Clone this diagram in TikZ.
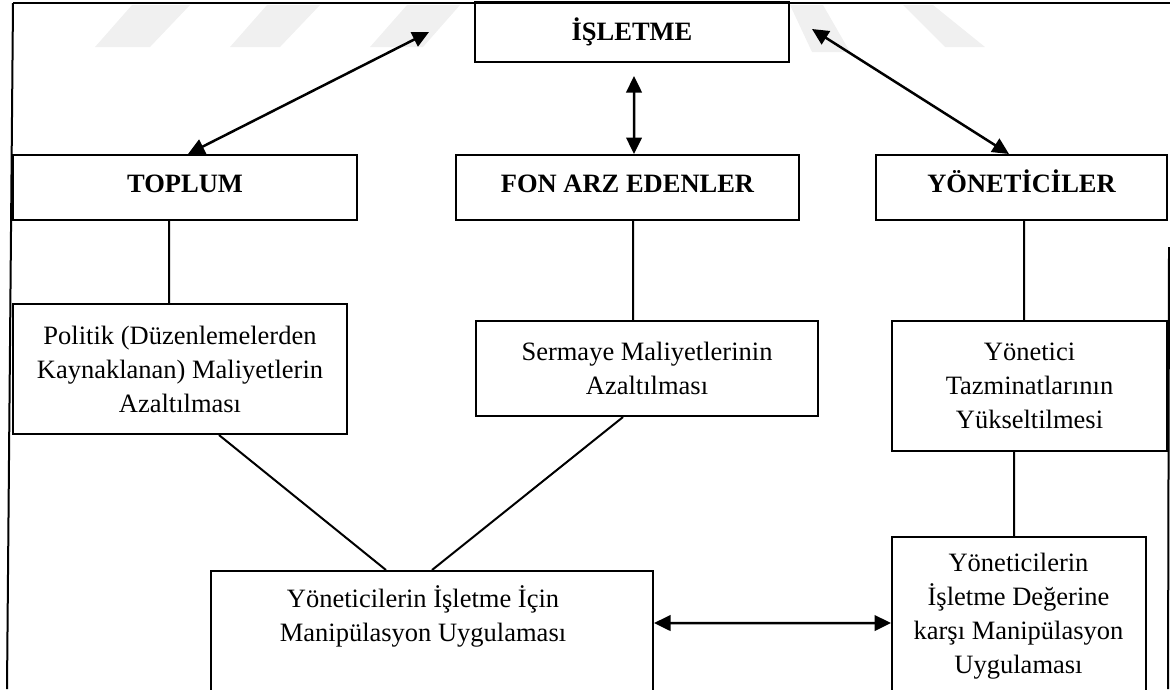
\documentclass[tikz,border=0pt]{standalone}
\usepackage{fontspec}
\setmainfont{Liberation Serif}
\usetikzlibrary{arrows.meta}
\begin{document}
\begin{tikzpicture}[x=0.4pt,y=-0.4pt,
  box/.style={draw, line width=0.8pt, rectangle, inner sep=0pt, align=center,
    font=\fontsize{10.6}{13.6}\selectfont},
  head/.style={box, font=\fontsize{10.6}{13.6}\selectfont\bfseries, text height=7pt, text depth=3.2pt},
  txt/.style={align=center, inner sep=0pt, font=\fontsize{10.6}{13.6}\selectfont},
  conn/.style={line width=0.8pt},
  arr/.style={line width=1pt, {Triangle[length=6.6pt,width=6.2pt]}-{Triangle[length=6.6pt,width=6.2pt]}},
  frame/.style={line width=0.8pt},
  wm/.style={fill=black!6, draw=none}]
\useasboundingbox (0,0) rectangle (1170,689);
\clip (0,0) rectangle (1170,689);
% faint watermark
\fill[wm] (95,47) -- (150,47) -- (190,5) -- (132,5) -- cycle;
\fill[wm] (230,47) -- (280,47) -- (320,5) -- (267,5) -- cycle;
\fill[wm] (370,47) -- (423,47) -- (460,5) -- (407,5) -- cycle;
\fill[wm] (790,5) -- (823,5) -- (850,52) -- (812,52) -- cycle;
\fill[wm] (903,5) -- (933,5) -- (985,47) -- (945,47) -- cycle;
% frame
\draw[frame] (13,3) -- (1170,3);
\draw[frame] (13,3) -- (7,689);
\draw[frame] (1169,247) -- (1168,689);
% boxes
\node[head, minimum width=125.6pt, minimum height=24pt, text depth=0pt] (isletme) at (632,32) {İŞLETME};
\node[head, minimum width=137.6pt, minimum height=26pt] (toplum) at (185,187.5) {TOPLUM};
\node[head, minimum width=137.2pt, minimum height=26pt] (fon) at (627.5,187.5) {FON ARZ EDENLER};
\node[head, minimum width=116.4pt, minimum height=26pt] (yon) at (1021.5,187.5) {YÖNETİCİLER};
\node[box, minimum width=133.6pt, minimum height=52pt] (politik) at (180,369) {Politik (Düzenlemelerden\\Kaynaklanan) Maliyetlerin\\Azaltılması};
\node[box, minimum width=136.8pt, minimum height=38pt] (sermaye) at (647,368.5) {Sermaye Maliyetlerinin\\Azaltılması};
\node[box, minimum width=110pt, minimum height=52pt] (yonetici) at (1029.5,386) {Yönetici\\Tazminatlarının\\Yükseltilmesi};
\node[box, minimum width=176.8pt, minimum height=67.6pt] (manip) at (432,655.5) {};
\node[txt] (maniptxt) at (423,616) {Yöneticilerin İşletme İçin\\Manipülasyon Uygulaması};
\node[box, minimum width=101.6pt, minimum height=81.2pt] (deger) at (1019,638.5) {};
\node[txt] (degertxt) at (1018.5,616.5) {Yöneticilerin\\İşletme Değerine\\karşı Manipülasyon\\Uygulaması};
% free arrow ends
\coordinate (a1) at (429,32);
\coordinate (a3) at (812,29);
% connectors
\draw[arr] (a1) -- ([xshift=1.2pt]toplum.north);
\draw[arr] ([xshift=0.8pt,yshift=-5.2pt]isletme.south) -- ([xshift=2.6pt]fon.north);
\draw[arr] (a3) -- ([xshift=-5pt]yon.north);
\draw[conn] ([xshift=-6.4pt]toplum.south) -- ([xshift=-4.4pt]politik.north);
\draw[conn] ([xshift=2.2pt]fon.south) -- ([xshift=-5.6pt]sermaye.north);
\draw[conn] ([xshift=1pt]yon.south) -- ([xshift=-2.2pt]yonetici.north);
\draw[conn] ([xshift=-6.2pt]yonetici.south) -- ([xshift=-2pt]deger.north);
\draw[conn] ([xshift=15.6pt]politik.south) -- ([xshift=-18.4pt]manip.north);
\draw[conn] ([xshift=-9.6pt]sermaye.south) -- (manip.north);
\draw[arr] ([yshift=13pt]manip.east) -- ([yshift=6.2pt]deger.west);
\end{tikzpicture}
\end{document}
